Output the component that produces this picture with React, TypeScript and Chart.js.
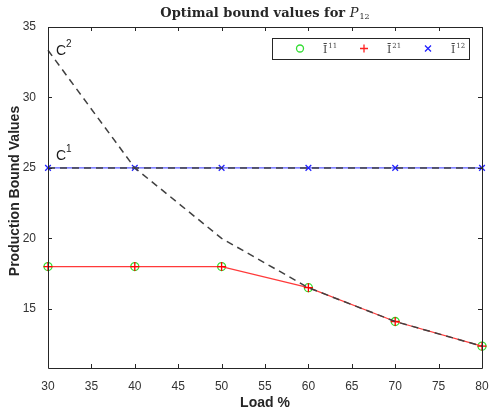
import React, { useEffect, useRef } from "react";
import { Chart, registerables } from "chart.js";
Chart.register(...registerables);

const loads = [30, 40, 50, 60, 70, 80];
const i11 = [18, 18, 18, 16.5, 14.1, 12.35];
const i21 = [18, 18, 18, 16.5, 14.1, 12.35];
const i12 = [25, 25, 25, 25, 25, 25];
const c1 = [25, 25, 25, 25, 25, 25];
const c2 = [33.35, 25, 20, 16.5, 14.1, 12.35];
const xTicks = [30, 35, 40, 45, 50, 55, 60, 65, 70, 75, 80];
const yTicks = [15, 20, 25, 30, 35];
const yMin = 10.8;
const yMax = 35;

const AX = "#262626";
const SERIF = "'DejaVu Serif'";

const pts = (ys: number[]) => loads.map((x, i) => ({ x, y: ys[i] }));

const decor = {
  id: "decor",
  afterDraw(chart: any) {
    const ctx = chart.ctx as CanvasRenderingContext2D;
    const a = chart.chartArea;
    const xs = chart.scales.x;
    const ys = chart.scales.y;
    ctx.save();
    // box
    ctx.strokeStyle = AX;
    ctx.lineWidth = 1;
    ctx.beginPath();
    ctx.rect(Math.round(a.left) + 0.5, Math.round(a.top) + 0.5, Math.round(a.right - a.left), Math.round(a.bottom - a.top));
    ctx.stroke();
    // inward ticks
    const tl = 4;
    ctx.beginPath();
    xTicks.forEach((v) => {
      const px = Math.round(xs.getPixelForValue(v)) + 0.5;
      ctx.moveTo(px, a.bottom);
      ctx.lineTo(px, a.bottom - tl);
      ctx.moveTo(px, a.top);
      ctx.lineTo(px, a.top + tl);
    });
    yTicks.forEach((v) => {
      const py = Math.round(ys.getPixelForValue(v)) + 0.5;
      ctx.moveTo(a.left, py);
      ctx.lineTo(a.left + tl, py);
      ctx.moveTo(a.right, py);
      ctx.lineTo(a.right - tl, py);
    });
    ctx.stroke();

    // title
    const cx = (a.left + a.right) / 2;
    ctx.fillStyle = AX;
    ctx.textBaseline = "alphabetic";
    const tMain = "Optimal bound values for ";
    const fs = 13;
    ctx.font = `bold ${fs}px ${SERIF}`;
    const w1 = ctx.measureText(tMain).width;
    ctx.font = `italic ${fs}px ${SERIF}`;
    const w2 = ctx.measureText("P").width;
    ctx.font = `8px ${SERIF}`;
    const w3 = ctx.measureText("12").width;
    let tx = cx - (w1 + w2 + w3 + 1) / 2;
    const ty = 17;
    ctx.textAlign = "left";
    ctx.font = `bold ${fs}px ${SERIF}`;
    ctx.fillText(tMain, tx, ty);
    tx += w1;
    ctx.font = `italic ${fs}px ${SERIF}`;
    ctx.fillText("P", tx, ty);
    tx += w2 + 1;
    ctx.font = `8px ${SERIF}`;
    ctx.fillText("12", tx, ty + 2);

    // axis titles
    ctx.font = "bold 14px 'Liberation Sans'";
    ctx.textAlign = "center";
    ctx.textBaseline = "middle";
    ctx.fillText("Load %", cx, 403);
    ctx.save();
    ctx.translate(15, 191);
    ctx.rotate(-Math.PI / 2);
    ctx.fillText("Production Bound Values", 0, 0);
    ctx.restore();

    // C labels
    ctx.fillStyle = "#1a1a1a";
    ctx.textAlign = "left";
    ctx.textBaseline = "alphabetic";
    ctx.font = "14px 'Liberation Sans'";
    ctx.fillText("C", 56, 55);
    ctx.fillText("C", 56, 160);
    ctx.font = "10px 'Liberation Sans'";
    ctx.fillText("2", 66, 47);
    ctx.fillText("1", 66, 152);

    // legend
    const lx = 272, ly = 38, lw = 197, lh = 21;
    ctx.fillStyle = "#ffffff";
    ctx.fillRect(lx, ly, lw, lh);
    ctx.strokeStyle = AX;
    ctx.lineWidth = 1;
    ctx.strokeRect(lx + 0.5, ly + 0.5, lw, lh);
    const my = ly + 10.5;
    // circle
    ctx.strokeStyle = "#33dd33";
    ctx.lineWidth = 1.3;
    ctx.beginPath();
    ctx.arc(300, my, 3.5, 0, Math.PI * 2);
    ctx.stroke();
    // plus
    ctx.strokeStyle = "#ff2020";
    ctx.beginPath();
    ctx.moveTo(360, my); ctx.lineTo(368, my);
    ctx.moveTo(364, my - 4); ctx.lineTo(364, my + 4);
    ctx.stroke();
    // x
    ctx.strokeStyle = "#2020ff";
    ctx.beginPath();
    ctx.moveTo(425, my - 3); ctx.lineTo(431, my + 3);
    ctx.moveTo(431, my - 3); ctx.lineTo(425, my + 3);
    ctx.stroke();
    const lbl = (x: number, sup: string) => {
      ctx.fillStyle = "#444444";
      ctx.font = `11px ${SERIF}`;
      ctx.textBaseline = "alphabetic";
      ctx.fillText("\u012A", x, my + 4);
      const w = ctx.measureText("\u012A").width;
      ctx.font = `7px ${SERIF}`;
      ctx.fillText(sup, x + w + 1, my - 0.5);
    };
    lbl(323, "11");
    lbl(387, "21");
    lbl(451, "12");
    ctx.restore();
  },
};

export default function App() {
  const ref = useRef<HTMLCanvasElement | null>(null);
  useEffect(() => {
    if (!ref.current) return;
    const chart = new Chart(ref.current, {
      type: "line",
      data: {
        datasets: [
          {
            label: "C2",
            data: pts(c2),
            borderColor: "#404040",
            borderWidth: 1.5,
            borderDash: [7, 5],
            pointRadius: 0,
            clip: false as any,
          },
          {
            label: "C1",
            data: pts(c1),
            borderColor: "#404040",
            borderWidth: 1.5,
            borderDash: [7, 5],
            pointRadius: 0,
            clip: false as any,
          },
          {
            label: "\u012A21",
            data: pts(i21),
            borderColor: "#ff3a3a",
            borderWidth: 1.2,
            pointStyle: "cross",
            pointRadius: 4.5,
            pointBorderColor: "#ff0000",
            pointBorderWidth: 1.3,
            clip: false as any,
          },
          {
            label: "\u012A12",
            data: pts(i12),
            borderColor: "#5858ff",
            borderWidth: 1.2,
            pointStyle: "crossRot",
            pointRadius: 4,
            pointBorderColor: "#2020ff",
            pointBorderWidth: 1.3,
            clip: false as any,
          },
          {
            label: "\u012A11",
            data: pts(i11),
            showLine: false,
            borderColor: "#33dd33",
            pointStyle: "circle",
            pointRadius: 4,
            pointBackgroundColor: "rgba(0,0,0,0)",
            pointBorderColor: "#33dd33",
            pointBorderWidth: 1.3,
            clip: false as any,
          },
        ],
      },
      options: {
        responsive: false,
        animation: false,
        layout: { padding: { left: 0, right: 8, top: 27, bottom: 0 } },
        plugins: { legend: { display: false }, title: { display: false }, tooltip: { enabled: false } },
        scales: {
          x: {
            type: "linear",
            min: 30,
            max: 80,
            grid: { display: false },
            border: { display: false },
            afterFit: (s: any) => { s.height = 46; s.paddingLeft = 0; s.paddingRight = 0; },
            afterBuildTicks: (s: any) => { s.ticks = xTicks.map((v) => ({ value: v })); },
            ticks: { padding: 3, color: "#333333", font: { family: "'Liberation Sans'", size: 12 }, maxRotation: 0, autoSkip: false },
          },
          y: {
            type: "linear",
            min: yMin,
            max: yMax,
            grid: { display: false },
            border: { display: false },
            afterFit: (s: any) => { s.width = 48; s.paddingTop = 0; s.paddingBottom = 0; },
            afterBuildTicks: (s: any) => { s.ticks = yTicks.map((v) => ({ value: v })); },
            ticks: { padding: 4, color: "#333333", font: { family: "'Liberation Sans'", size: 12 }, autoSkip: false },
          },
        },
      },
      plugins: [decor],
    });
    return () => chart.destroy();
  }, []);
  return (
    <div style={{ position: "absolute", left: 0, top: 0, width: 490, height: 414 }}>
      <canvas ref={ref} width={490} height={414} />
    </div>
  );
}
